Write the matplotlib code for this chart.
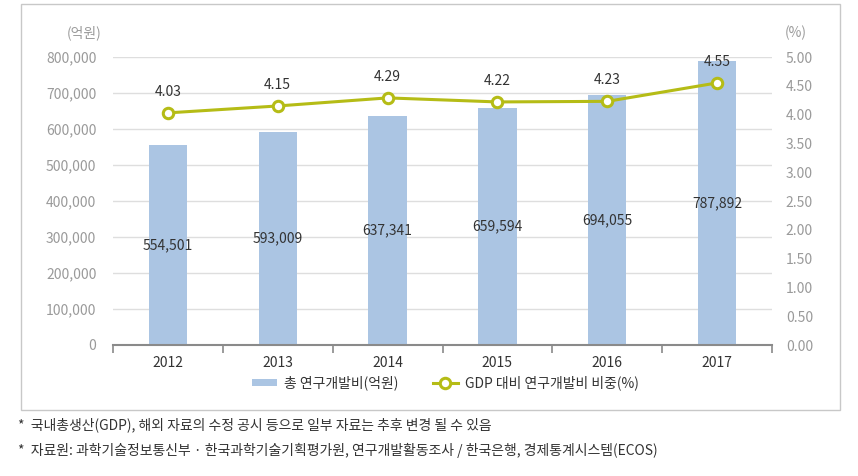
import matplotlib
matplotlib.use("Agg")
import matplotlib.pyplot as plt
from matplotlib.patches import Rectangle
from matplotlib.ticker import FuncFormatter, FixedLocator

plt.rcParams['font.family'] = ['Noto Sans CJK KR', 'DejaVu Sans']

years = ['2012', '2013', '2014', '2015', '2016', '2017']
rnd_total = [554501, 593009, 637341, 659594, 694055, 787892]
gdp_ratio = [4.03, 4.15, 4.29, 4.22, 4.23, 4.55]
left_ticks = [0, 100000, 200000, 300000, 400000, 500000, 600000, 700000, 800000]
right_ticks = [0.0, 0.5, 1.0, 1.5, 2.0, 2.5, 3.0, 3.5, 4.0, 4.5, 5.0]
bar_label = '총 연구개발비(억원)'
line_label = 'GDP 대비 연구개발비 비중(%)'
notes = ['*  국내총생산(GDP), 해외 자료의 수정 공시 등으로 일부 자료는 추후 변경 될 수 있음',
         '*  자료원: 과학기술정보통신부 · 한국과학기술기획평가원, 연구개발활동조사 / 한국은행, 경제통계시스템(ECOS)']

W, H = 858, 476
fig = plt.figure(figsize=(W / 100, H / 100), dpi=100)

# outer box
fig.patches.append(Rectangle((21 / W, 1 - 410 / H), (840 - 21) / W, (410 - 4) / H,
                             transform=fig.transFigure, fill=False, edgecolor='#c8c8c8', lw=1))

ax = fig.add_axes([113 / W, 1 - 345 / H, (772 - 113) / W, (345 - 57) / H])
x = list(range(len(years)))
bar_color = '#abc5e3'
line_color = '#b5bc16'
bars = ax.bar(x, rnd_total, width=0.35, color=bar_color, zorder=2, label=bar_label)
ax.set_xlim(-0.5, len(years) - 0.5)
ax.set_ylim(0, 800000)
ax.yaxis.set_major_locator(FixedLocator(left_ticks))
ax.yaxis.set_major_formatter(FuncFormatter(lambda v, p: f'{int(v):,}'))
ax.grid(axis='y', color='#dedede', lw=1, zorder=0)
ax.set_axisbelow(True)
for s in ['top', 'right', 'left']:
    ax.spines[s].set_visible(False)
ax.spines['bottom'].set_color('#8a8a8a')
ax.spines['bottom'].set_linewidth(1.5)
ax.tick_params(axis='y', length=0, labelsize=10, labelcolor='#9a9a9a', pad=12)
ax.set_xticks(x)
ax.set_xticklabels(years, fontsize=10, color='#333333')
ax.tick_params(axis='x', length=0, pad=8)
# boundary tick marks
ax.set_xticks([i - 0.5 for i in range(len(years) + 1)], minor=True)
ax.tick_params(axis='x', which='minor', length=6, color='#8a8a8a', width=1.2, direction='out')

for xi, v in zip(x, rnd_total):
    ax.text(xi, v / 2, f'{v:,}', ha='center', va='center', fontsize=10, color='#333333', zorder=5)

ax2 = ax.twinx()
ax2.set_ylim(0, 5.0)
ax2.yaxis.set_major_locator(FixedLocator(right_ticks))
ax2.yaxis.set_major_formatter(FuncFormatter(lambda v, p: f'{v:.2f}'))
for s in ['top', 'right', 'left', 'bottom']:
    ax2.spines[s].set_visible(False)
ax2.tick_params(axis='y', length=0, labelsize=10, labelcolor='#9a9a9a', pad=10)
line, = ax2.plot(x, gdp_ratio, color=line_color, lw=2.2, marker='o', markersize=7.5,
                 markerfacecolor='white', markeredgecolor=line_color, markeredgewidth=2.2,
                 zorder=4, label=line_label)
for xi, v in zip(x, gdp_ratio):
    ax2.annotate(f'{v:.2f}', (xi, v), xytext=(0, 10), textcoords='offset points',
                 ha='center', va='bottom', fontsize=10, color='#333333')

fig.text(101 / W, 1 - 33 / H, '(억원)', ha='right', va='center', fontsize=10, color='#9a9a9a')
fig.text(785 / W, 1 - 33 / H, '(%)', ha='left', va='center', fontsize=10, color='#9a9a9a')

fig.legend([bars, line], [bar_label, line_label], loc='center', ncol=2,
           bbox_to_anchor=(445 / W, 1 - 383 / H), frameon=False, fontsize=10,
           handlelength=1.8, handleheight=0.5, handletextpad=0.5, columnspacing=2.5,
           labelcolor='#333333')

fig.text(18 / W, 1 - 425 / H, notes[0], ha='left', va='center', fontsize=10, color='#333333')
fig.text(18 / W, 1 - 450 / H, notes[1], ha='left', va='center', fontsize=10, color='#333333')

fig.savefig('out.png', dpi=100)
